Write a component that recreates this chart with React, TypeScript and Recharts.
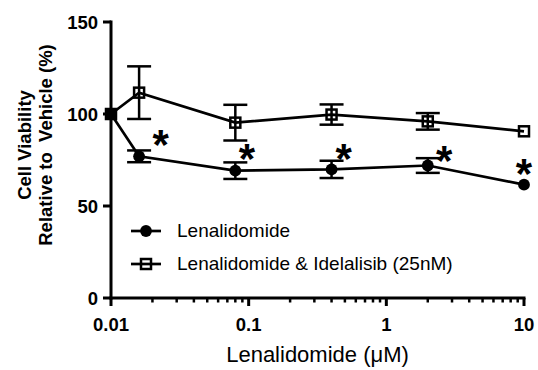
import React from 'react';
import { ComposedChart, Line, Scatter, XAxis, YAxis, ErrorBar, Legend } from 'recharts';

const FONT = "'Liberation Sans', Arial, Helvetica, sans-serif";

const concentrations = [0.01, 0.016, 0.08, 0.4, 2, 10];
const lenalidomide = [100, 77.0, 69.2, 69.9, 72.0, 61.6];
const lenalidomideErr = [0, 3.2, 4.5, 4.7, 4.0, 0];
const combo = [100, 111.6, 95.3, 99.7, 96.0, 90.6];
const comboErr = [0, 14.3, 9.7, 5.5, 4.5, 0];
const starX = [0.023, 0.097, 0.49, 2.63, 10];
const starY = [87.9, 80.3, 80.3, 79.3, 72.1];
const xMajorTicks = [0.01, 0.1, 1, 10];
const xMinorTicks = [0.02, 0.03, 0.04, 0.05, 0.06, 0.07, 0.08, 0.09, 0.2, 0.3, 0.4, 0.5, 0.6, 0.7, 0.8, 0.9, 2, 3, 4, 5, 6, 7, 8, 9];
const yTicks = [0, 50, 100, 150];
const seriesNames = ['Lenalidomide', 'Lenalidomide & Idelalisib (25nM)'];

const lenData = concentrations.map((x, i) => ({ x, y: lenalidomide[i], err: lenalidomideErr[i] }));
const comboData = concentrations.map((x, i) => ({ x, y: combo[i], err: comboErr[i] }));
const starData = starX.map((x, i) => ({ x, y: starY[i] }));
const allXTicks = [...xMajorTicks, ...xMinorTicks].sort((a, b) => a - b);

const LW = 2.7;

const XTick = (props: any) => {
  const { x, y, payload } = props;
  const v = payload.value;
  const major = xMajorTicks.includes(v);
  return (
    <g>
      <line x1={x} x2={x} y1={y} y2={y + (major ? 8 : 4.5)} stroke="#000" strokeWidth={major ? 3 : 2.5} />
      {major && (
        <text x={x} y={y + 26} textAnchor="middle" dominantBaseline="central" fontFamily={FONT} fontWeight="bold" fontSize={18.5} fill="#000">
          {String(v)}
        </text>
      )}
    </g>
  );
};

const YTick = (props: any) => {
  const { x, y, payload } = props;
  return (
    <g>
      <line x1={x - 8} x2={x} y1={y} y2={y} stroke="#000" strokeWidth={3} />
      <text x={x - 13} y={y} textAnchor="end" dominantBaseline="central" fontFamily={FONT} fontWeight="bold" fontSize={18.5} fill="#000">
        {payload.value}
      </text>
    </g>
  );
};

const SquareDot = (props: any) => {
  const { cx, cy, index } = props;
  if (cx == null || cy == null) return null;
  return <rect key={`sq-${index}`} x={cx - 5} y={cy - 5} width={10} height={10} fill="none" stroke="#000" strokeWidth={2.5} />;
};

const CircleDot = (props: any) => {
  const { cx, cy, index } = props;
  if (cx == null || cy == null) return null;
  return <circle key={`ci-${index}`} cx={cx} cy={cy} r={5.9} fill="#000" />;
};

const StarShape = (props: any) => {
  const { cx, cy } = props;
  return (
    <text x={cx} y={cy + 23} textAnchor="middle" fontFamily={FONT} fontWeight="bold" fontSize={42} fill="#000">
      *
    </text>
  );
};

const YTitle = () => {
  const cy = 145;
  return (
    <g fontFamily={FONT} fontWeight="bold" fontSize={18.5} fill="#000">
      <text x={24} y={cy} transform={`rotate(-90 24 ${cy})`} textAnchor="middle" dominantBaseline="central">
        Cell Viability
      </text>
      <text x={45} y={cy} transform={`rotate(-90 45 ${cy})`} textAnchor="middle" dominantBaseline="central" style={{ whiteSpace: 'pre' }}>
        {'Relative to  Vehicle (%)'}
      </text>
    </g>
  );
};

const XTitle = (props: any) => {
  const vb = props.viewBox || { x: 0, y: 0, width: 0, height: 0 };
  const cx = vb.x + vb.width / 2;
  return (
    <text x={cx} y={vb.y + 64} textAnchor="middle" fontFamily={FONT} fontSize={22} fill="#000">
      Lenalidomide (μM)
    </text>
  );
};

const LegendContent = () => (
  <div style={{ fontFamily: FONT, fontSize: 19, color: '#000' }}>
    {seriesNames.map((name, i) => (
      <div key={name} style={{ display: 'flex', alignItems: 'center', height: 33, whiteSpace: 'nowrap' }}>
        <svg width={32} height={20} style={{ marginRight: 15 }}>
          <line x1={1} x2={31} y1={10} y2={10} stroke="#000" strokeWidth={LW} />
          {i === 0 ? (
            <circle cx={16} cy={10} r={5.9} fill="#000" />
          ) : (
            <rect x={11} y={5} width={10} height={10} fill="none" stroke="#000" strokeWidth={2.5} />
          )}
        </svg>
        <span>{name}</span>
      </div>
    ))}
  </div>
);

export default function App() {
  return (
    <div style={{ position: 'absolute', left: 0, top: 0, width: 538, height: 370, background: '#fff' }}>
      <ComposedChart width={538} height={370} margin={{ top: 22, right: 14, bottom: 0, left: 0 }}>
        <XAxis
          type="number"
          dataKey="x"
          scale="log"
          domain={[0.01, 10]}
          ticks={allXTicks}
          interval={0}
          tick={XTick}
          tickLine={false}
          tickSize={0}
          tickMargin={0}
          axisLine={{ stroke: '#000', strokeWidth: 3, strokeLinecap: 'square' }}
          height={72}
          label={{ content: XTitle }}
        />
        <YAxis
          type="number"
          domain={[0, 150]}
          ticks={yTicks}
          interval={0}
          tick={YTick}
          tickLine={false}
          tickSize={0}
          tickMargin={0}
          axisLine={{ stroke: '#000', strokeWidth: 3, strokeLinecap: 'square' }}
          width={111}
          label={{ content: YTitle }}
        />
        <Legend
          layout="vertical"
          align="center"
          verticalAlign="middle"
          content={LegendContent}
          wrapperStyle={{ left: 130, top: 214, width: 'auto', height: 'auto' }}
        />
        <Line
          data={comboData}
          dataKey="y"
          name={seriesNames[1]}
          stroke="#000"
          strokeWidth={LW}
          dot={SquareDot}
          activeDot={false}
          isAnimationActive={false}
        >
          <ErrorBar dataKey="err" width={12} stroke="#000" strokeWidth={2.5} direction="y" />
        </Line>
        <Line
          data={lenData}
          dataKey="y"
          name={seriesNames[0]}
          stroke="#000"
          strokeWidth={LW}
          dot={CircleDot}
          activeDot={false}
          isAnimationActive={false}
        >
          <ErrorBar dataKey="err" width={12} stroke="#000" strokeWidth={2.5} direction="y" />
        </Line>
        <Scatter data={starData} dataKey="y" shape={StarShape} isAnimationActive={false} legendType="none" />
      </ComposedChart>
    </div>
  );
}
